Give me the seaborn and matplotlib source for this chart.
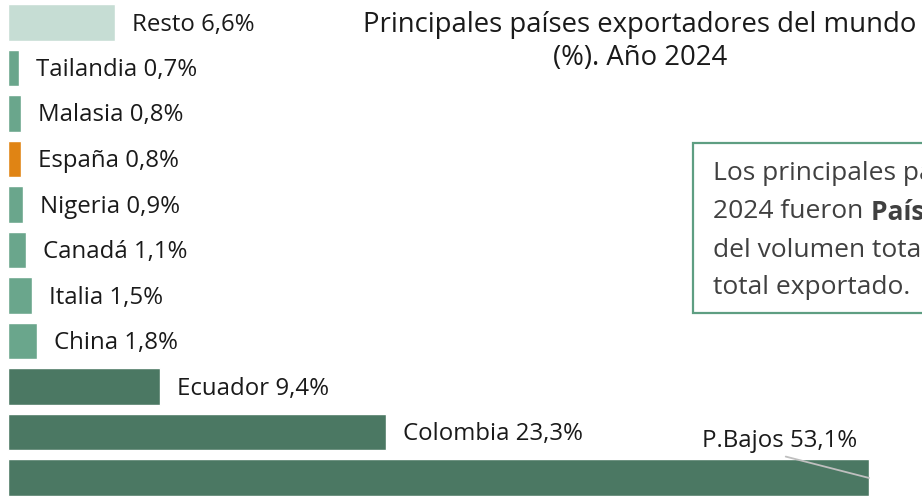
import pandas as pd
import matplotlib.pyplot as plt
import seaborn as sns
from matplotlib.patches import Rectangle

# Datos (orden de arriba a abajo)
paises = ["Resto", "Tailandia", "Malasia", "España", "Nigeria", "Canadá",
          "Italia", "China", "Ecuador", "Colombia", "P.Bajos"]
valores = [6.6, 0.7, 0.8, 0.8, 0.9, 1.1, 1.5, 1.8, 9.4, 23.3, 53.1]
colores = ["#c6ddd4", "#6aa68c", "#6aa68c", "#e08414", "#6aa68c", "#6aa68c",
           "#6aa68c", "#6aa68c", "#4b7863", "#4b7863", "#4b7863"]

titulo = ["Principales países exportadores del mundo", "(%). Año 2024"]
nota_lineas = ["Los principales países exportadores en",
               "2024 fueron",
               "del volumen total, con el 85,8% del",
               "total exportado."]
nota_negrita = "Países Bajos, Colombia y Ecuador"

df = pd.DataFrame({"pais": paises, "valor": valores})

sns.set_style("white")
plt.rcParams["font.family"] = ["Open Sans", "DejaVu Sans"]

W, H = 922, 498
fig = plt.figure(figsize=(W / 100, H / 100), dpi=100)
ax = fig.add_axes([0, 0, 1, 1])

sns.barplot(data=df, x="valor", y="pais", hue="pais", palette=colores,
            legend=False, orient="h", width=0.81, ax=ax, saturation=1)

# escala: 8 px de margen izquierdo, barra de 53,1% termina en 869 px
px_por_unidad = (869 - 8) / 53.1
ax.set_xlim(-8 / px_por_unidad, (W - 8) / px_por_unidad)
paso = 45.5
ax.set_ylim((H - 22.5) / paso, -22.5 / paso)
ax.axis("off")

# etiquetas
for i, (p, v) in enumerate(zip(paises, valores)):
    etiqueta = f"{p} {str(v).replace('.', ',')}%"
    if p == "P.Bajos":
        ax.annotate(etiqueta, xy=(v, i + 0.01),
                    xytext=(-12, 37), textcoords="offset pixels",
                    ha="right", va="center", fontsize=17.3, color="#1a1a1a",
                    arrowprops=dict(arrowstyle="-", color="#bfbfbf", lw=1.3,
                                    relpos=(0.45, 0), shrinkA=1, shrinkB=0))
    else:
        ax.annotate(etiqueta, xy=(v, i),
                    xytext=(17, -2), textcoords="offset pixels",
                    ha="left", va="center", fontsize=17.3, color="#1a1a1a")

# título
fig.text(640 / W, 1 - 25 / H, titulo[0], ha="center", va="center",
         fontsize=19.8, color="#1a1a1a")
fig.text(640 / W, 1 - 58 / H, titulo[1], ha="center", va="center",
         fontsize=19.8, color="#1a1a1a")

# cuadro de nota
fig.patches.append(Rectangle((693 / W, 1 - 313 / H), 400 / W, 170 / H,
                             transform=fig.transFigure, facecolor="white",
                             edgecolor="#5e9e82", lw=1.6))
ys = [173, 212, 250, 288]
textos = []
for linea, y in zip(nota_lineas, ys):
    textos.append(fig.text(713 / W, 1 - y / H, linea, ha="left", va="center",
                           fontsize=19, color="#404040"))
fig.canvas.draw()
bb = textos[1].get_window_extent()
fig.text((bb.x1 + 8) / W, 1 - ys[1] / H, nota_negrita, ha="left", va="center",
         fontsize=19, color="#404040", fontweight="bold")

plt.savefig("out.png", dpi=100)
